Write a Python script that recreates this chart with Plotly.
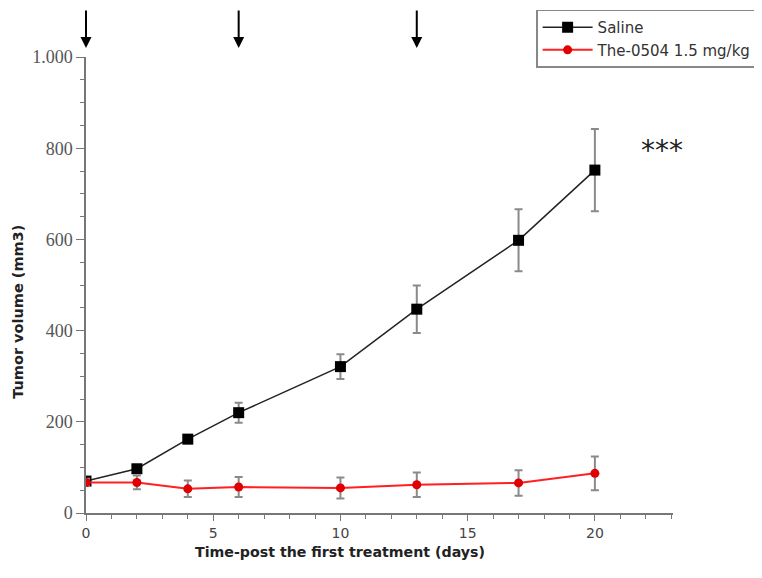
import plotly.graph_objects as go

days = [0, 2, 4, 6, 10, 13, 17, 20]
saline = [70, 97, 162, 220, 321, 447, 598, 752]
saline_err = [6, 7, 9, 22, 27, 52, 68, 90]
drug = [67, 67, 53, 57, 55, 62, 66, 87]
drug_err = [8, 15, 18, 22, 23, 27, 28, 37]
treat_days = [0, 6, 13]
y_ticks = [0, 200, 400, 600, 800, 1000]
y_labels = ["0", "200", "400", "600", "800", "1.000"]
x_ticks = [0, 5, 10, 15, 20]

fig = go.Figure()
fig.add_trace(go.Scatter(
    x=days, y=saline, name="Saline", mode="lines+markers",
    line=dict(color="#222222", width=1.5),
    marker=dict(symbol="square", size=11, color="black"),
    error_y=dict(type="data", array=saline_err, color="#8a8a8a", thickness=2, width=4),
))
fig.add_trace(go.Scatter(
    x=days, y=drug, name="The-0504 1.5 mg/kg", mode="lines+markers",
    line=dict(color="#ff2020", width=2),
    marker=dict(symbol="circle", size=9, color="#e00000"),
    error_y=dict(type="data", array=drug_err, color="#8a8a8a", thickness=2, width=4),
))

for d in treat_days:
    fig.add_annotation(x=d, y=1.0197, xref="x", yref="paper", ax=0, ay=-39,
                       showarrow=True, arrowhead=2, arrowsize=1.1, arrowwidth=2,
                       arrowcolor="black", text="")

fig.add_annotation(x=22.64, y=796, xref="x", yref="y", text="***", showarrow=False,
                   font=dict(size=28, color="#222", family="DejaVu Sans"))

fig.add_annotation(x=0.433, y=-0.0855, xref="paper", yref="paper", showarrow=False,
                   xanchor="center", yanchor="middle",
                   text="<b>Time-post the first treatment (days)</b>",
                   font=dict(family="DejaVu Sans", size=14.2, color="#222"))
fig.add_annotation(x=-0.116, y=0.441, xref="paper", yref="paper", showarrow=False,
                   xanchor="center", yanchor="middle", textangle=-90,
                   text="<b>Tumor volume (mm3)</b>",
                   font=dict(family="DejaVu Sans", size=14.5, color="#222"))

fig.update_layout(
    width=754, height=570,
    margin=dict(l=78, r=89, t=49, b=65, autoexpand=False),
    plot_bgcolor="white", paper_bgcolor="white",
    showlegend=True,
    legend=dict(x=1.145, y=1.104, xanchor="right", yanchor="top",
                bordercolor="#888", borderwidth=1.5, bgcolor="white",
                font=dict(family="DejaVu Sans", size=15, color="#333"),
                tracegroupgap=0, itemwidth=50),
    xaxis=dict(range=[0, 23.07], tickvals=x_ticks, showgrid=False, zeroline=False,
               showline=True, linecolor="#777", linewidth=1.5,
               ticks="outside", ticklen=6, tickcolor="#777",
               minor=dict(dtick=1, ticks="outside", ticklen=4, tickcolor="#777"),
               tickfont=dict(family="DejaVu Sans", size=14, color="#444")),
    yaxis=dict(range=[0, 1000], tickvals=y_ticks, ticktext=y_labels, showgrid=False, zeroline=False,
               showline=True, linecolor="#777", linewidth=1.5,
               ticks="outside", ticklen=8, tickcolor="#777",
               minor=dict(dtick=50, ticks="outside", ticklen=4, tickcolor="#777"),
               tickfont=dict(family="Liberation Serif", size=18, color="#555")),
)

fig.write_html("out.html")
